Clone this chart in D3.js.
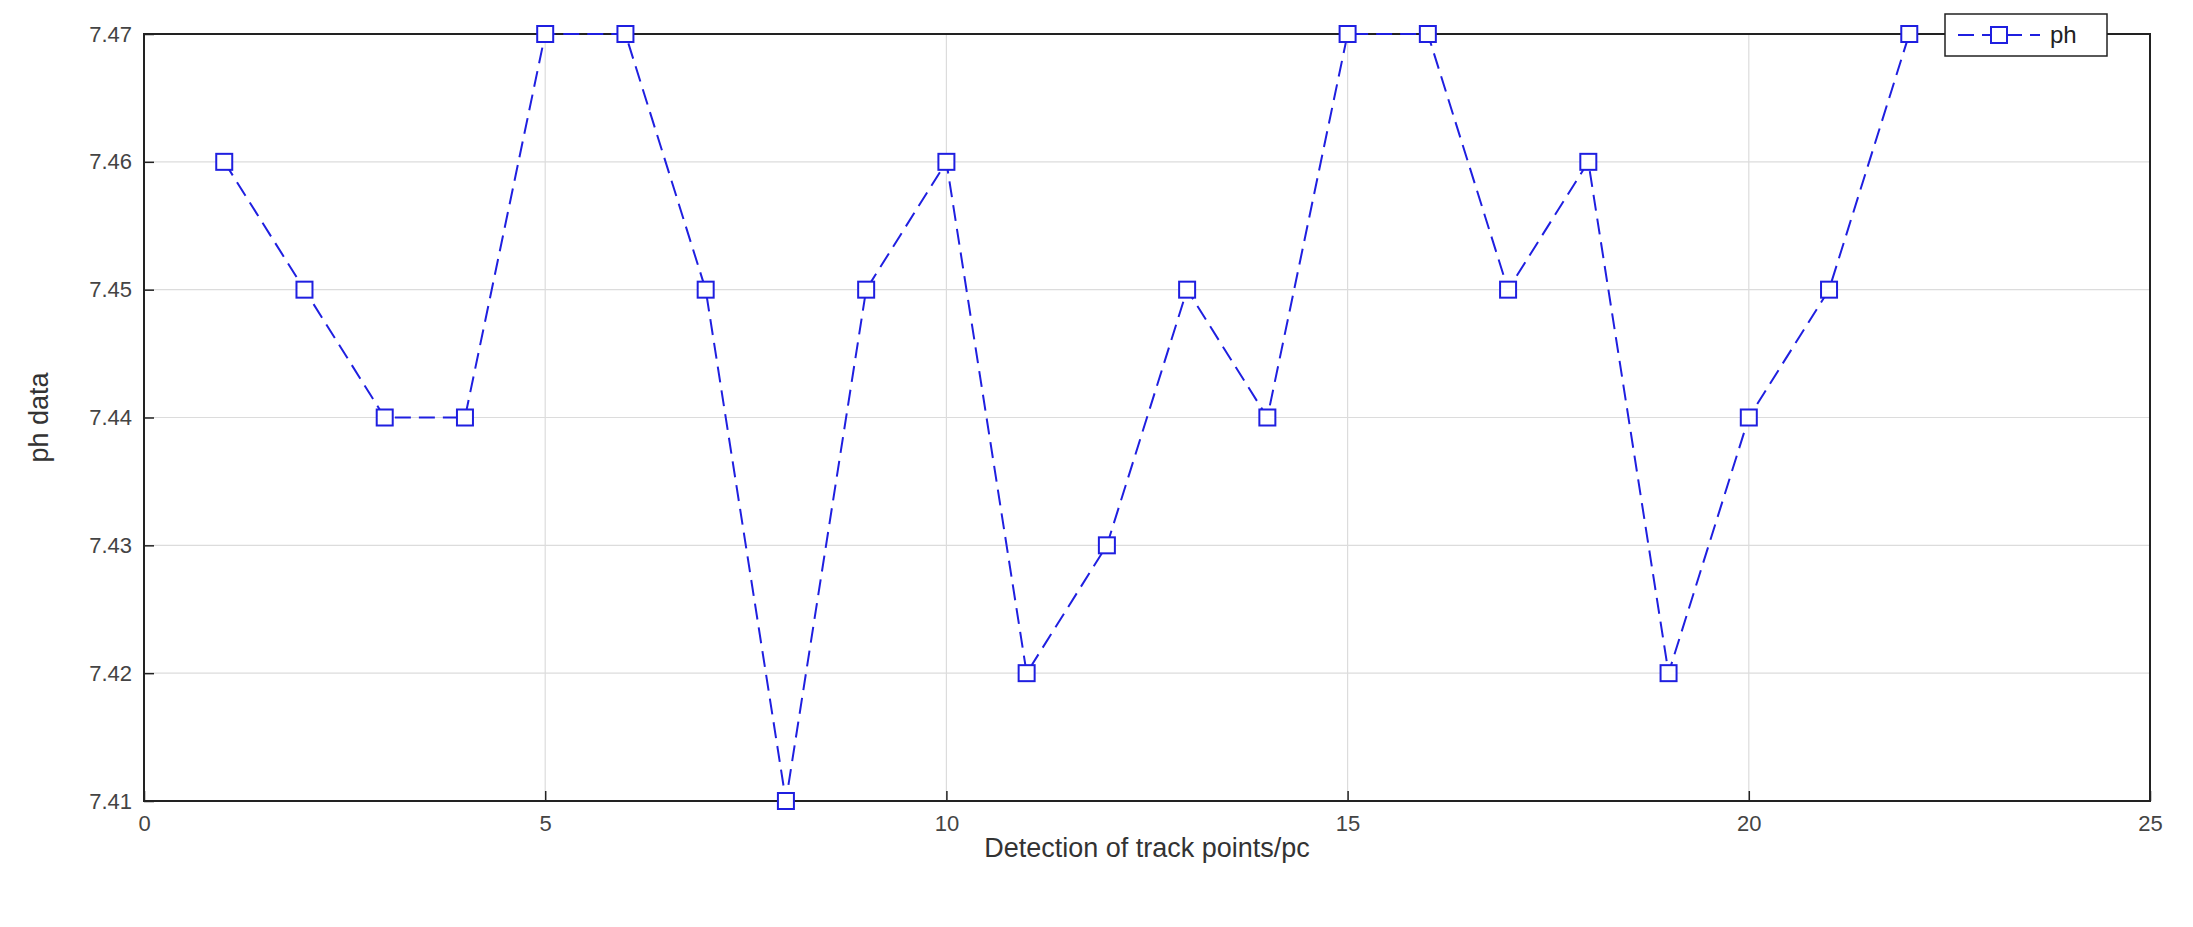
<!DOCTYPE html>
<html><head><meta charset="utf-8">
<script src="https://cdn.jsdelivr.net/npm/d3@7"></script>
<style>body{margin:0;background:#fff}text{font-family:"Liberation Sans",Arial,sans-serif}</style>
</head><body>
<svg id="chart" width="2193" height="927"></svg>
<script>
// data
var points = [1,2,3,4,5,6,7,8,9,10,11,12,13,14,15,16,17,18,19,20,21,22];
var phValues = [7.46,7.45,7.44,7.44,7.47,7.47,7.45,7.41,7.45,7.46,7.42,7.43,7.45,7.44,7.47,7.47,7.45,7.46,7.42,7.44,7.45,7.47];
var xTicks = [0,5,10,15,20,25];
var yTicks = [7.41,7.42,7.43,7.44,7.45,7.46,7.47];

var svg = d3.select("#chart");
var pLeft = 144, pRight = 2150, pTop = 34, pBottom = 801;
var x = d3.scaleLinear().domain([0,25]).range([pLeft,pRight]);
var y = d3.scaleLinear().domain([7.41,7.47]).range([pBottom,pTop]);

// grid
svg.append("g").selectAll("line").data(xTicks).enter().append("line")
  .attr("x1",d=>x(d)).attr("x2",d=>x(d)).attr("y1",pTop).attr("y2",pBottom)
  .attr("stroke","#dcdcdc").attr("stroke-width",1.2);
svg.append("g").selectAll("line").data(yTicks).enter().append("line")
  .attr("x1",pLeft).attr("x2",pRight).attr("y1",d=>y(d)).attr("y2",d=>y(d))
  .attr("stroke","#dcdcdc").attr("stroke-width",1.2);

// axes
var xAxis = svg.append("g").attr("transform","translate(0,"+pBottom+")")
  .call(d3.axisBottom(x).tickValues(xTicks).tickSize(-10).tickPadding(14));
var yAxis = svg.append("g").attr("transform","translate("+pLeft+",0)")
  .call(d3.axisLeft(y).tickValues(yTicks).tickSize(-10).tickPadding(12).tickFormat(d3.format(".2f")));
[xAxis,yAxis].forEach(function(a){
  a.select(".domain").remove();
  a.selectAll("line").attr("stroke","#222").attr("stroke-width",1.5);
  a.selectAll("text").attr("font-size",22).attr("fill","#444").attr("font-family","Liberation Serif, serif");
});
svg.append("rect").attr("x",pLeft).attr("y",pTop).attr("width",pRight-pLeft).attr("height",pBottom-pTop)
  .attr("fill","none").attr("stroke","#222").attr("stroke-width",2);

// line + markers
var line = d3.line().x((d,i)=>x(points[i])).y(d=>y(d));
svg.append("path").datum(phValues).attr("d",line).attr("fill","none")
  .attr("stroke","#1f1fe0").attr("stroke-width",2).attr("stroke-dasharray","16,8");
svg.append("g").selectAll("rect").data(phValues).enter().append("rect")
  .attr("x",(d,i)=>x(points[i])-8).attr("y",d=>y(d)-8).attr("width",16).attr("height",16)
  .attr("fill","#fff").attr("stroke","#1f1fe0").attr("stroke-width",2);

// labels
svg.append("text").attr("x",(pLeft+pRight)/2).attr("y",857).attr("text-anchor","middle")
  .attr("font-size",27).attr("fill","#333").text("Detection of track points/pc");
svg.append("text").attr("transform","translate(48,"+((pTop+pBottom)/2)+") rotate(-90)")
  .attr("text-anchor","middle").attr("font-size",27).attr("fill","#333").text("ph data");

// legend
var lg = svg.append("g");
lg.append("rect").attr("x",1945).attr("y",14).attr("width",162).attr("height",42)
  .attr("fill","#fff").attr("stroke","#222").attr("stroke-width",1.5);
lg.append("line").attr("x1",1958).attr("x2",2040).attr("y1",35).attr("y2",35)
  .attr("stroke","#1f1fe0").attr("stroke-width",2).attr("stroke-dasharray","16,8");
lg.append("rect").attr("x",1991).attr("y",27).attr("width",16).attr("height",16)
  .attr("fill","#fff").attr("stroke","#1f1fe0").attr("stroke-width",2);
lg.append("text").attr("x",2050).attr("y",43).attr("font-size",24).attr("fill","#222").text("ph");
</script>
</body></html>
